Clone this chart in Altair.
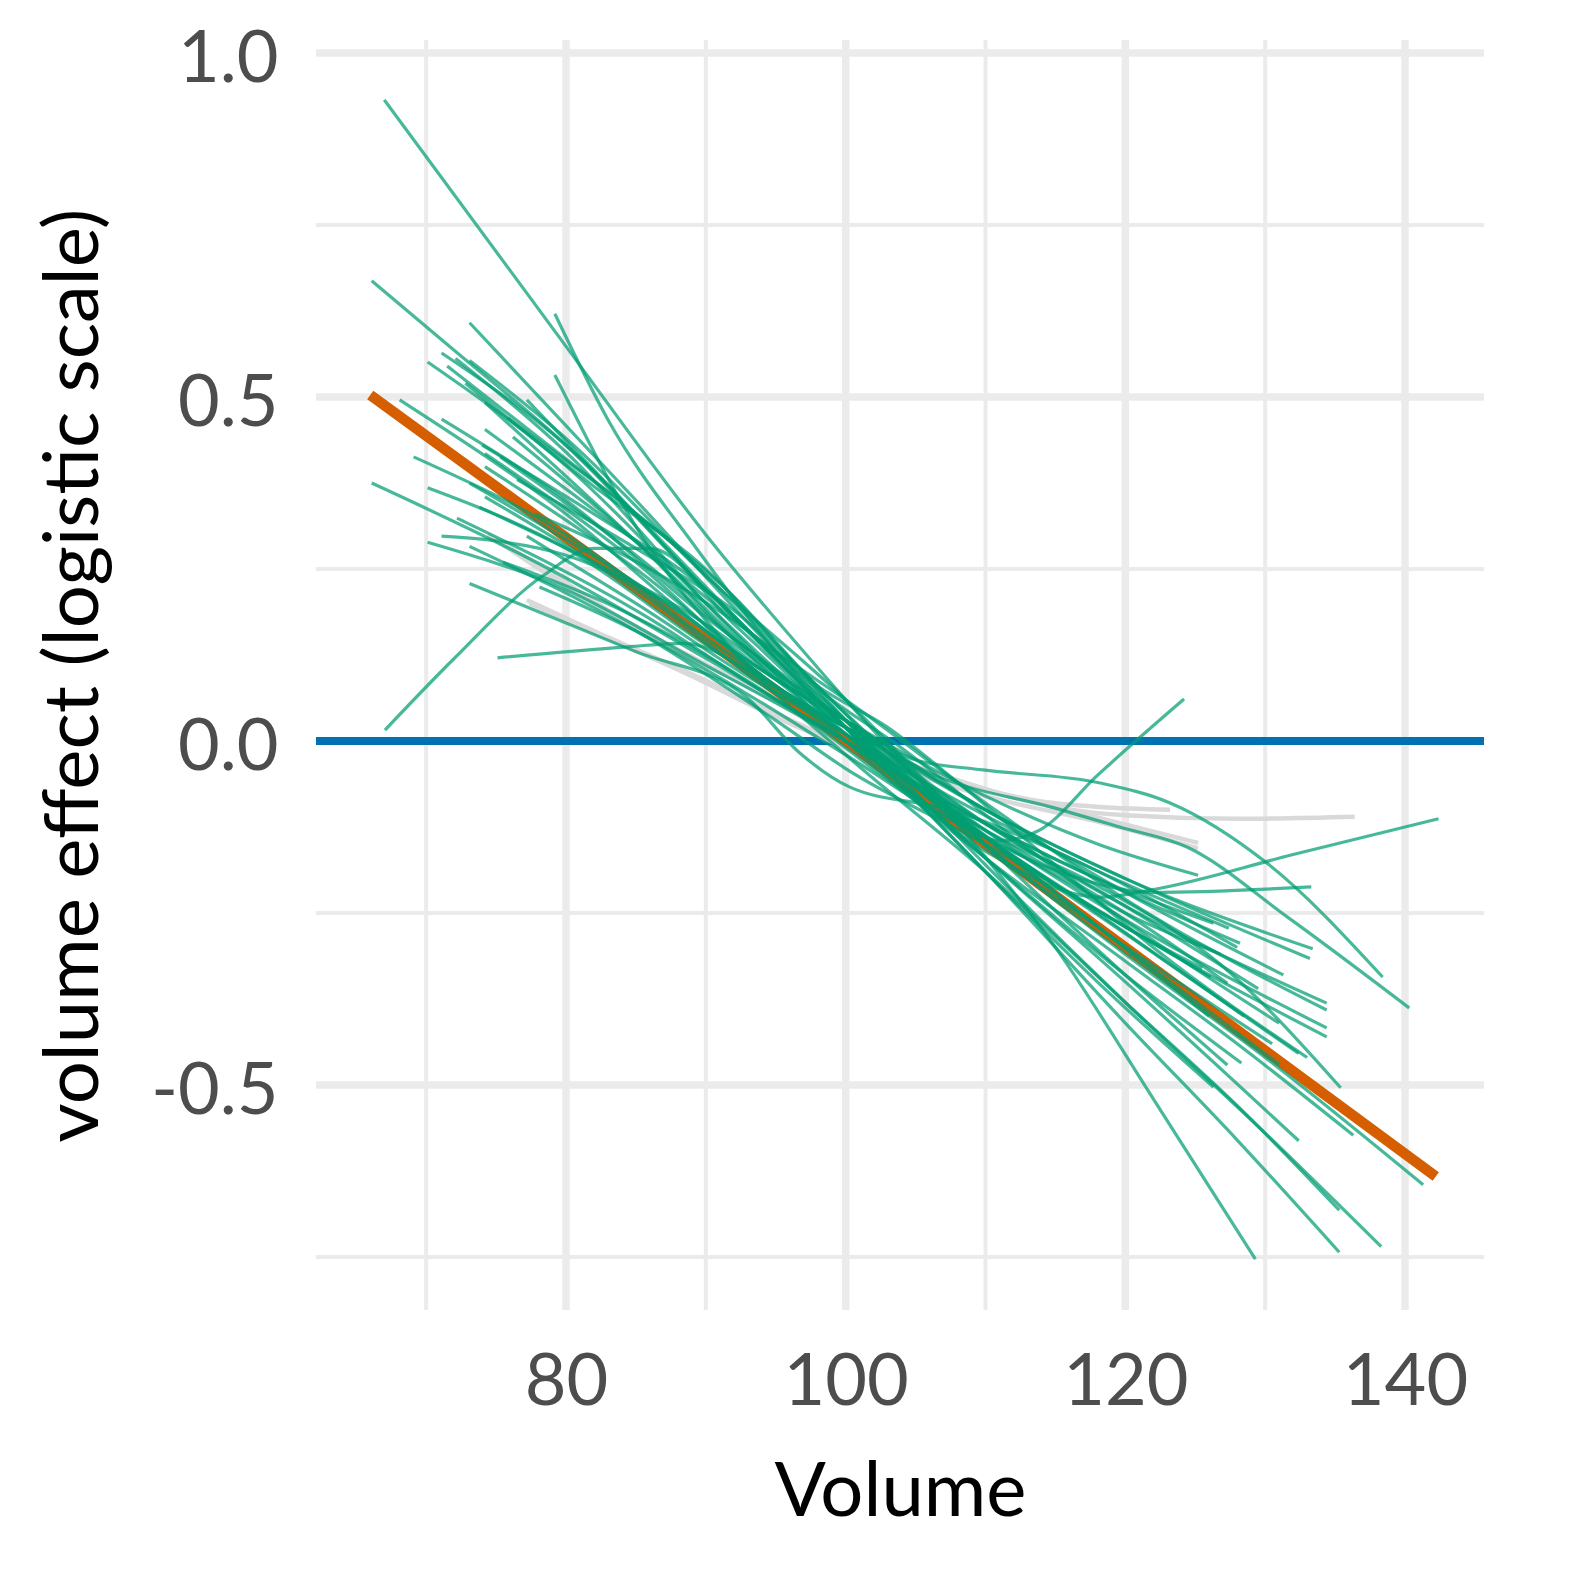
import altair as alt
import pandas as pd

# ---- axes / grid values ----
x_major = [80, 100, 120, 140]
x_minor = [70, 90, 110, 130]
y_major = [-0.5, 0.0, 0.5, 1.0]
y_minor = [-0.75, -0.25, 0.25, 0.75]
x_domain = [62.12, 145.65]
y_domain = [-0.827, 1.019]
zero_line = [0.0]

# ---- reference (orange) line ----
orange_pts = [(66.0, 0.503), (100.0, 0.0), (142.2, -0.633)]

# ---- grey lines ----
gr1 = [(74.4, 0.30), (80, 0.23), (86, 0.151), (93.2, 0.078), (100, 0.0), (107.5, -0.054),
       (114.7, -0.095), (120, -0.108), (128, -0.113), (136.4, -0.11)]
gr2 = [(77.2, 0.205), (82, 0.16), (88.4, 0.103), (95, 0.04), (100, -0.005), (108, -0.06),
       (114, -0.088), (118.2, -0.096), (123.2, -0.100)]
gr3 = [(74.8, 0.295), (80, 0.225), (86, 0.155), (93, 0.08), (100, 0.005), (110, -0.07),
       (118.2, -0.112), (125.2, -0.148)]
gr4 = [(77.4, 0.20), (82, 0.158), (88.4, 0.10), (95, 0.035), (100, -0.01), (110, -0.08),
       (118.2, -0.118), (125.2, -0.156)]

# ---- green lines ----
g01 = [(67.0, 0.932), (79.3, 0.593), (90, 0.30), (100, 0.06), (108, -0.12), (115, -0.30), (122, -0.52), (129.3, -0.753)]
g02 = [(79.2, 0.621), (83.0, 0.467), (89.4, 0.278), (95, 0.13), (100, 0.02), (110, -0.19), (120, -0.41), (128, -0.58), (135.3, -0.743)]
g03 = [(79.2, 0.532), (85.3, 0.302), (92, 0.13), (100, -0.02), (110, -0.19), (120, -0.38), (128, -0.53), (135.3, -0.682)]
g04 = [(73.1, 0.608), (85, 0.35), (95, 0.13), (100, 0.03), (110, -0.18), (120, -0.38), (130, -0.57), (138.3, -0.735)]
g05 = [(77.2, 0.496), (85, 0.33), (95, 0.12), (100, 0.02), (110, -0.19), (118, -0.35), (126.3, -0.503)]
g06 = [(66.1, 0.669), (71.7, 0.573), (80, 0.43), (90, 0.22), (100, 0.03), (110, -0.15), (120, -0.31), (130, -0.46), (141.3, -0.645)]
g07 = [(71.1, 0.564), (80, 0.43), (90, 0.22), (100, 0.02), (110, -0.17), (120, -0.35), (132.4, -0.581)]
g08 = [(72.1, 0.556), (80, 0.42), (90, 0.20), (100, 0.0), (110, -0.17), (120, -0.32), (128, -0.44), (136.3, -0.573)]
g09 = [(73.1, 0.553), (80, 0.44), (90, 0.24), (100, 0.06), (110, -0.15), (120, -0.34), (127.3, -0.471)]
g10 = [(70.1, 0.551), (80, 0.40), (90, 0.20), (100, 0.01), (110, -0.17), (120, -0.34), (128.3, -0.468)]
g11 = [(74.2, 0.492), (85, 0.29), (95, 0.09), (100, 0.01), (110, -0.13), (118, -0.21), (126.7, -0.323), (135.4, -0.504)]
g12 = [(68.1, 0.496), (80, 0.33), (90, 0.16), (100, 0.02), (110, -0.14), (120, -0.28), (132.4, -0.454)]
g13 = [(71.1, 0.468), (80, 0.35), (90, 0.18), (100, 0.03), (110, -0.12), (120, -0.24), (134.4, -0.381)]
g14 = [(74.2, 0.453), (85, 0.29), (95, 0.13), (100, 0.06), (110, -0.09), (120, -0.23), (134.4, -0.391)]
g15 = [(76.2, 0.442), (85, 0.29), (95, 0.10), (100, 0.03), (110, -0.13), (120, -0.26), (134.4, -0.417)]
g16 = [(69.1, 0.413), (80, 0.30), (90, 0.15), (100, 0.01), (110, -0.14), (120, -0.27), (134.4, -0.430)]
g17 = [(74.2, 0.418), (85, 0.26), (95, 0.08), (100, 0.02), (107, -0.055), (114.7, -0.096), (119.6, -0.125), (124.4, -0.154), (131.6, -0.256), (140.3, -0.388)]
g18 = [(75.3, 0.413), (85, 0.27), (95, 0.10), (100, 0.03), (105.1, -0.028), (109.8, -0.042), (118.2, -0.061), (123.2, -0.09), (130.1, -0.177), (138.4, -0.343)]
g19 = [(74.2, 0.399), (85, 0.25), (95, 0.09), (100, 0.03), (110, -0.10), (120, -0.20), (133.2, -0.316)]
g20 = [(66.1, 0.375), (78.9, 0.249), (90, 0.12), (100, 0.0), (110, -0.13), (120, -0.25), (127.3, -0.352)]
g21 = [(70.1, 0.368), (80, 0.28), (90, 0.14), (100, 0.02), (110, -0.10), (120, -0.20), (133.4, -0.302)]
g22 = [(73.1, 0.375), (85, 0.23), (95, 0.09), (100, 0.03), (110, -0.08), (118.2, -0.151), (125.2, -0.195)]
g23 = [(74.2, 0.355), (85, 0.22), (95, 0.07), (100, 0.01), (110, -0.14), (116, -0.195), (122, -0.22), (133.3, -0.212)]
g24 = [(72.2, 0.324), (85, 0.19), (95, 0.06), (100, 0.0), (110, -0.16), (118.2, -0.227), (121.7, -0.217), (132, -0.165), (142.4, -0.113)]
g25 = [(71.1, 0.298), (74.6, 0.292), (80, 0.27), (88, 0.19), (95, 0.08), (100, 0.01), (115, -0.16), (127.4, -0.272)]
g26 = [(70.1, 0.289), (80, 0.22), (90, 0.11), (100, 0.0), (110, -0.12), (120, -0.22), (128.2, -0.294)]
g27 = [(73.1, 0.283), (85, 0.16), (95, 0.03), (100, -0.04), (110, -0.15), (120, -0.27), (126.1, -0.343)]
g28 = [(77.2, 0.298), (85, 0.20), (95, 0.07), (100, 0.02), (110, -0.10), (120, -0.22), (131.3, -0.34)]
g29 = [(73.1, 0.229), (85, 0.13), (92.9, 0.064), (96.7, -0.017), (100.3, -0.067), (107.5, -0.10), (115, -0.16), (128.0, -0.30)]
g30 = [(75.1, 0.121), (84.4, 0.137), (88.4, 0.142), (94, 0.09), (100, 0.0), (110, -0.12), (118, -0.2), (126.3, -0.265)]
g31 = [(67.05, 0.016), (72, 0.12), (78.4, 0.241), (82, 0.28), (86, 0.28), (92, 0.17), (100, 0.02), (110, -0.14), (120, -0.27), (125.5, -0.33)]
g32 = [(78.1, 0.224), (85, 0.16), (92, 0.08), (100, -0.02), (108, -0.12), (111, -0.145), (113.9, -0.129), (118, -0.05), (124.2, 0.061)]
g33 = [(71.5, 0.545), (80, 0.41), (88, 0.28), (95, 0.14), (100, 0.04), (106, -0.07), (115, -0.22), (126.0, -0.40)]
g34 = [(72.8, 0.52), (82, 0.37), (90, 0.25), (96, 0.12), (100, 0.03), (108, -0.12), (118, -0.27), (130.5, -0.44)]
g35 = [(75.8, 0.47), (85, 0.33), (92, 0.21), (97, 0.10), (102, 0.0), (110, -0.14), (120, -0.30), (131.0, -0.47)]
g36 = [(74.0, 0.43), (82, 0.33), (90, 0.22), (96, 0.10), (101, 0.0), (108, -0.11), (118, -0.25), (128.5, -0.40)]
g37 = [(76.5, 0.38), (85, 0.28), (92, 0.19), (98, 0.08), (103, 0.02), (108, -0.06), (115, -0.18), (122, -0.30), (133.0, -0.46)]
g38 = [(73.8, 0.34), (82, 0.26), (90, 0.17), (96, 0.08), (102, -0.01), (110, -0.12), (120, -0.24), (129.5, -0.36)]
g39 = [(77.8, 0.33), (86, 0.25), (93, 0.16), (99, 0.06), (104, -0.01), (112, -0.14), (122, -0.29), (131.0, -0.41)]
g40 = [(75.5, 0.26), (84, 0.19), (92, 0.10), (98, 0.02), (104, -0.07), (112, -0.16), (121, -0.26), (126.8, -0.31)]

green_lines = [g01, g02, g03, g04, g05, g06, g07, g08, g09, g10, g11, g12, g13, g14, g15, g16,
               g17, g18, g19, g20, g21, g22, g23, g24, g25, g26, g27, g28, g29, g30, g31, g32,
               g33, g34, g35, g36, g37, g38, g39, g40]
grey_lines = [gr1, gr2, gr3, gr4]


def to_df(lines, prefix):
    rows = []
    for i, pts in enumerate(lines):
        for j, (x, y) in enumerate(pts):
            rows.append({"id": f"{prefix}{i:02d}", "x": x, "y": y, "o": j})
    return pd.DataFrame(rows)


green_df = to_df(green_lines, "g")
grey_df = to_df(grey_lines, "r")
orange_df = to_df([orange_pts], "o")

FONT = "Lato"
xaxis = alt.Axis(values=x_major, grid=False, ticks=False, domain=False,
                 labelFont=FONT, labelFontSize=72, labelColor="#4D4D4D",
                 labelPadding=37, labelFlush=False, labelOverlap=False, format="d",
                 title="Volume", titleFont=FONT, titleFontSize=76, titleFontWeight="normal",
                 titleColor="#000000", titleBaseline="alphabetic", titleY=205)
yaxis = alt.Axis(values=y_major, grid=False, ticks=False, domain=False,
                 labelFont=FONT, labelFontSize=72, labelColor="#4D4D4D",
                 labelPadding=38, labelOffset=6, labelOverlap=False,
                 labelExpr="datum.value < 0 ? '-' + format(-datum.value, '.1f') : format(datum.value, '.1f')",
                 title="volume effect (logistic scale)", titleFont=FONT, titleFontSize=76,
                 titleFontWeight="normal", titleColor="#000000", titleBaseline="alphabetic",
                 titleX=-219, titleY=635, titleAlign="center")

X = alt.X("x:Q", scale=alt.Scale(domain=x_domain, nice=False, zero=False), axis=xaxis)
Y = alt.Y("y:Q", scale=alt.Scale(domain=y_domain, nice=False, zero=False), axis=yaxis)

GRID = "#EBEBEB"
v_minor = alt.Chart(pd.DataFrame({"x": x_minor})).mark_rule(color=GRID, strokeWidth=4).encode(x=X)
h_minor = alt.Chart(pd.DataFrame({"y": y_minor})).mark_rule(color=GRID, strokeWidth=4).encode(y=Y)
v_major = alt.Chart(pd.DataFrame({"x": x_major})).mark_rule(color=GRID, strokeWidth=7.5).encode(x=X)
h_major = alt.Chart(pd.DataFrame({"y": y_major})).mark_rule(color=GRID, strokeWidth=7.5).encode(y=Y)
blue = alt.Chart(pd.DataFrame({"y": zero_line})).mark_rule(color="#0072B2", strokeWidth=8).encode(y=Y)

grey = alt.Chart(grey_df).mark_line(color="#D9D9D9", strokeWidth=4.5, interpolate="monotone").encode(
    x=X, y=Y, detail="id:N", order="o:Q")
orange = alt.Chart(orange_df).mark_line(color="#D55E00", strokeWidth=10.5).encode(
    x=X, y=Y, order="o:Q")
green = alt.Chart(green_df).mark_line(color="#009E73", strokeWidth=3.2, opacity=0.72,
                                      interpolate="monotone").encode(
    x=X, y=Y, detail="id:N", order="o:Q")

chart = alt.layer(v_minor, h_minor, v_major, h_major, blue, grey, orange, green).properties(
    width=1168, height=1270,
    autosize=alt.AutoSizeParams(type="none"),
    padding={"left": 308, "top": 32, "right": 75, "bottom": 240},
).configure_view(stroke=None)

chart.save("out.html", embed_options={"renderer": "svg", "actions": False})
